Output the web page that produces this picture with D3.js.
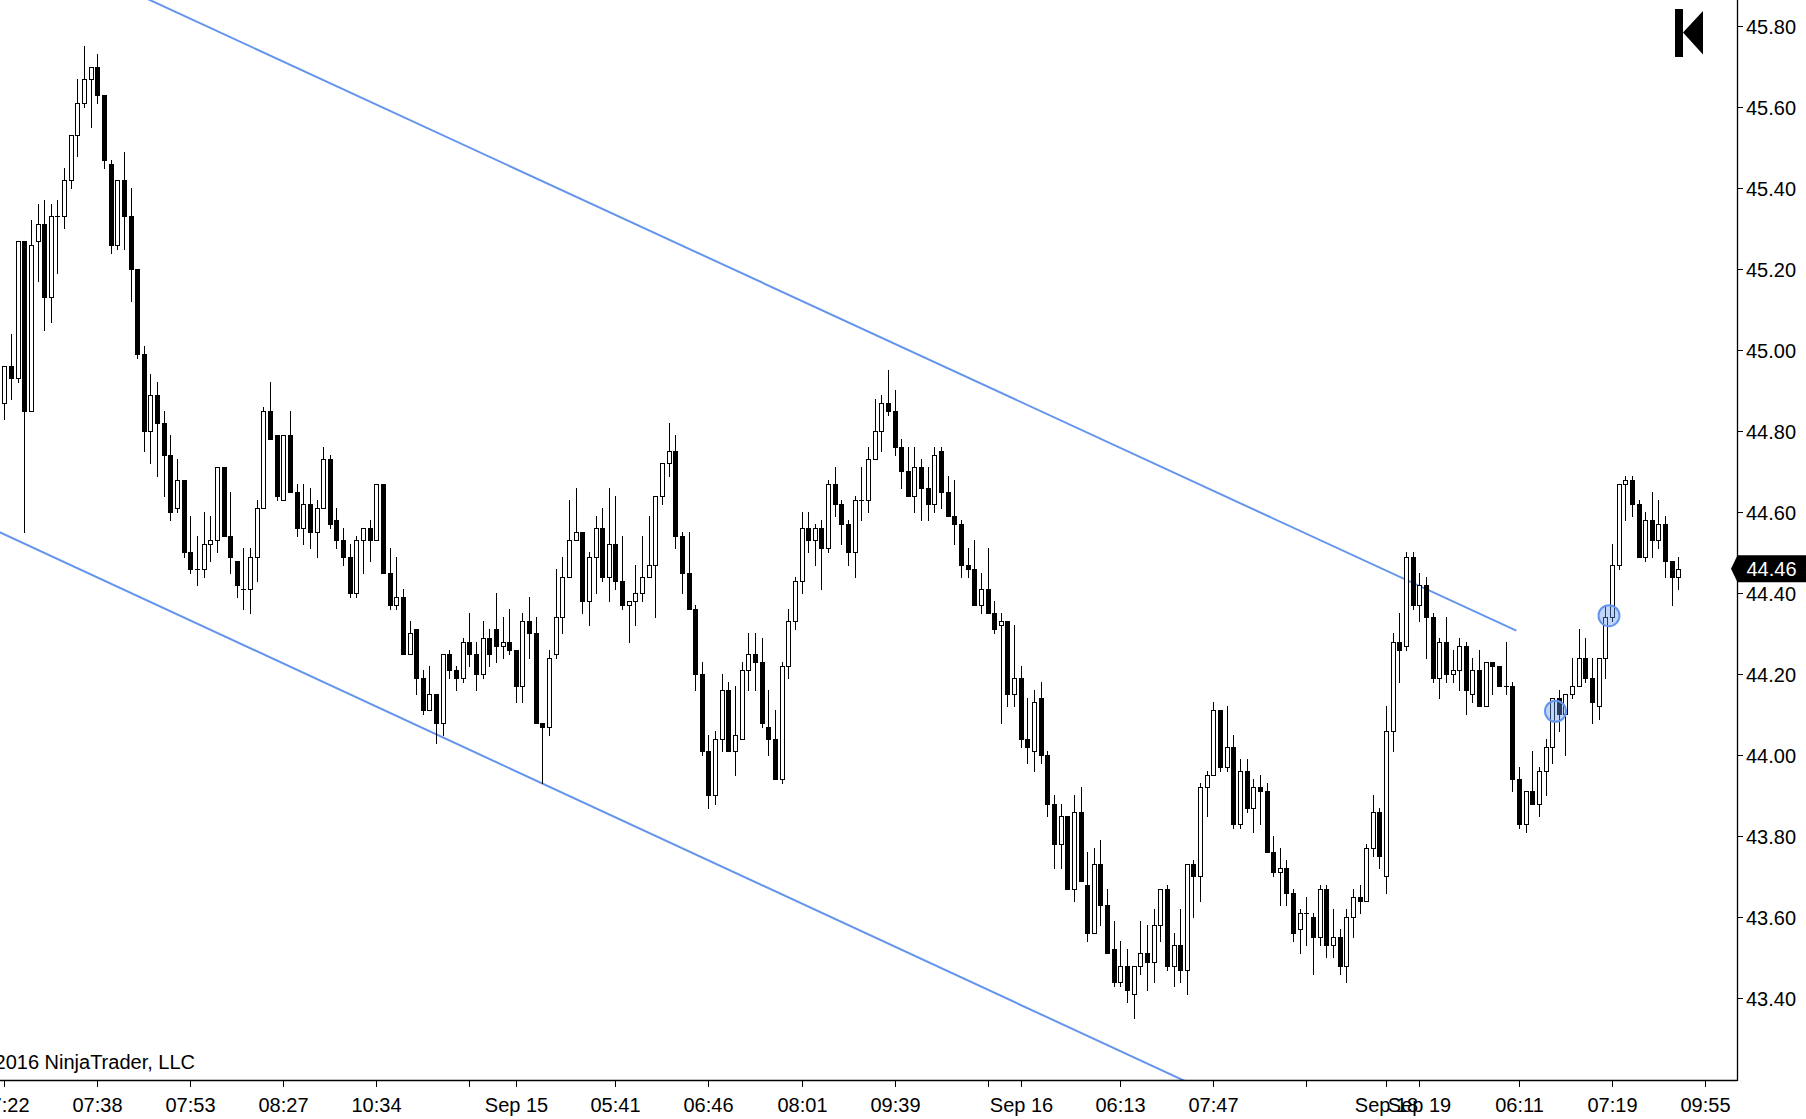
<!DOCTYPE html>
<html>
<head>
<meta charset="utf-8">
<script src="https://cdn.jsdelivr.net/npm/d3@7/dist/d3.min.js"></script>
<style>
  html, body { margin: 0; padding: 0; background: #fff; }
  svg { display: block; font-family: "Liberation Sans", Arial, sans-serif; }
</style>
</head>
<body>
<svg id="chart" width="1806" height="1119"></svg>
<script>
// ---------------- DATA ----------------
const opens = [
44.87,44.96,44.93,45.27,44.85,45.27,45.31,45.13,45.33,45.33,45.42,45.53,45.61,45.67,45.70,45.63,45.46,45.26,45.42,45.33,
45.20,44.99,44.80,44.89,44.82,44.74,44.61,44.68,44.50,44.46,44.46,44.52,44.53,44.71,44.54,44.48,44.41,44.41,44.49,44.61,
44.85,44.79,44.63,44.79,44.65,44.56,44.62,44.55,44.61,44.73,44.58,44.53,44.49,44.40,44.53,44.56,44.53,44.67,44.45,44.37,
44.39,44.25,44.31,44.19,44.11,44.15,44.08,44.25,44.21,44.19,44.28,44.25,44.20,44.29,44.31,44.27,44.28,44.26,44.17,44.33,
44.30,44.08,44.07,44.25,44.34,44.44,44.53,44.55,44.38,44.49,44.56,44.44,44.52,44.43,44.37,44.38,44.40,44.44,44.47,44.64,
44.72,44.75,44.54,44.45,44.36,44.20,44.01,43.90,44.04,44.16,44.01,44.04,44.21,44.25,44.23,44.07,44.04,43.94,44.22,44.33,
44.43,44.56,44.53,44.56,44.51,44.67,44.62,44.57,44.50,44.63,44.63,44.73,44.80,44.87,44.85,44.76,44.70,44.64,44.71,44.66,
44.62,44.75,44.65,44.59,44.57,44.47,44.46,44.37,44.41,44.35,44.32,44.33,44.15,44.19,44.04,44.01,44.14,44.00,43.88,43.78,
43.85,43.67,43.86,43.68,43.56,43.73,43.63,43.52,43.44,43.48,43.41,43.48,43.51,43.49,43.58,43.67,43.48,43.53,43.47,43.73,
43.70,43.92,43.95,44.11,43.97,44.02,43.83,43.96,43.87,43.92,43.91,43.76,43.71,43.72,43.66,43.57,43.61,43.60,43.55,43.67,
43.53,43.55,43.48,43.60,43.65,43.64,43.77,43.86,43.70,44.06,44.28,44.27,44.49,44.37,44.42,44.34,44.19,44.28,44.20,44.21,
44.27,44.15,44.21,44.12,44.23,44.22,44.17,44.17,43.94,43.83,43.91,43.88,43.96,44.02,44.14,44.10,44.15,44.17,44.24,44.19,
44.12,44.24,44.34,44.47,44.67,44.68,44.62,44.49,44.58,44.53,44.57,44.48,44.44
];
const highs = [
44.96,45.04,45.27,45.27,45.32,45.36,45.37,45.36,45.37,45.45,45.53,45.67,45.75,45.70,45.73,45.63,45.47,45.42,45.49,45.40,
45.20,45.01,44.94,44.92,44.85,44.79,44.73,44.68,44.59,44.54,44.60,44.59,44.71,44.71,44.65,44.48,44.51,44.51,44.63,44.86,
44.92,44.79,44.79,44.85,44.67,44.67,44.66,44.63,44.76,44.74,44.61,44.56,44.52,44.54,44.56,44.58,44.67,44.67,44.51,44.49,
44.41,44.33,44.31,44.21,44.22,44.15,44.25,44.26,44.22,44.29,44.35,44.28,44.33,44.31,44.40,44.34,44.36,44.26,44.35,44.39,
44.34,44.08,44.26,44.46,44.49,44.63,44.66,44.55,44.50,44.59,44.61,44.66,44.64,44.54,44.38,44.47,44.54,44.59,44.64,44.72,
44.82,44.79,44.55,44.55,44.37,44.23,44.05,44.06,44.20,44.18,44.17,44.23,44.30,44.30,44.29,44.16,44.11,44.23,44.36,44.44,
44.60,44.60,44.57,44.58,44.68,44.71,44.63,44.58,44.64,44.71,44.76,44.88,44.89,44.95,44.90,44.78,44.76,44.76,44.73,44.71,
44.76,44.76,44.69,44.68,44.58,44.51,44.53,44.45,44.51,44.38,44.35,44.33,44.32,44.22,44.14,44.16,44.18,44.01,43.90,43.88,
43.85,43.90,43.92,43.76,43.77,43.79,43.67,43.59,43.54,43.52,43.48,43.59,43.58,43.62,43.67,43.68,43.56,43.62,43.73,43.74,
43.93,43.96,44.13,44.11,44.12,44.05,43.99,43.99,43.94,43.95,43.93,43.80,43.77,43.74,43.67,43.62,43.65,43.61,43.68,43.68,
43.62,43.57,43.62,43.67,43.68,43.78,43.90,43.87,44.12,44.30,44.35,44.50,44.50,44.45,44.44,44.35,44.29,44.34,44.26,44.29,
44.28,44.24,44.26,44.23,44.23,44.22,44.28,44.18,43.97,43.91,44.01,43.97,44.04,44.14,44.16,44.15,44.24,44.31,44.29,44.24,
44.24,44.37,44.52,44.67,44.69,44.69,44.63,44.60,44.65,44.63,44.59,44.48,44.49
];
const lows = [
44.83,44.88,44.92,44.55,44.85,45.17,45.05,45.07,45.19,45.30,45.40,45.48,45.60,45.55,45.61,45.45,45.24,45.25,45.25,45.12,
44.98,44.75,44.72,44.69,44.64,44.58,44.60,44.49,44.45,44.42,44.44,44.48,44.50,44.54,44.45,44.39,44.36,44.35,44.43,44.61,
44.78,44.63,44.63,44.65,44.54,44.52,44.51,44.49,44.61,44.56,44.51,44.47,44.39,44.39,44.45,44.48,44.53,44.45,44.36,44.36,
44.25,44.25,44.15,44.10,44.11,44.03,44.05,44.19,44.16,44.18,44.22,44.16,44.19,44.22,44.23,44.24,44.25,44.13,44.13,44.24,
44.08,43.93,44.05,44.24,44.30,44.44,44.53,44.35,44.32,44.40,44.43,44.38,44.41,44.36,44.28,44.32,44.38,44.44,44.34,44.62,
44.69,44.51,44.40,44.36,44.16,44.00,43.87,43.88,44.01,44.01,43.95,44.04,44.16,44.16,44.07,44.00,43.94,43.93,44.19,44.31,
44.40,44.50,44.47,44.41,44.50,44.59,44.52,44.47,44.44,44.58,44.60,44.73,44.75,44.84,44.74,44.66,44.64,44.60,44.58,44.58,
44.60,44.61,44.59,44.52,44.44,44.44,44.37,44.35,44.35,44.30,44.08,44.12,44.12,44.02,43.98,43.96,43.98,43.85,43.72,43.72,
43.67,43.64,43.69,43.54,43.56,43.58,43.51,43.43,43.43,43.39,43.35,43.46,43.42,43.44,43.54,43.47,43.43,43.44,43.41,43.60,
43.64,43.85,43.95,43.96,43.96,43.82,43.82,43.86,43.81,43.83,43.76,43.70,43.63,43.63,43.54,43.51,43.53,43.46,43.53,43.50,
43.50,43.46,43.44,43.55,43.61,43.64,43.75,43.72,43.66,44.01,44.18,44.26,44.36,44.33,44.24,44.18,44.14,44.18,44.18,44.16,
44.10,44.13,44.12,44.12,44.15,44.17,44.15,43.91,43.82,43.81,43.88,43.85,43.90,43.98,44.06,44.00,44.14,44.17,44.18,44.08,
44.09,44.19,44.33,44.46,44.58,44.59,44.49,44.48,44.49,44.51,44.44,44.37,44.41
];
const closes = [
44.96,44.93,45.27,44.85,45.26,45.31,45.13,45.33,45.33,45.42,45.53,45.61,45.67,45.70,45.63,45.47,45.26,45.42,45.33,45.20,
44.99,44.80,44.89,44.82,44.74,44.60,44.68,44.50,44.46,44.46,44.52,44.53,44.71,44.54,44.49,44.42,44.41,44.49,44.61,44.85,
44.78,44.64,44.79,44.65,44.56,44.62,44.55,44.61,44.73,44.57,44.53,44.49,44.40,44.53,44.56,44.53,44.67,44.45,44.37,44.39,
44.25,44.30,44.19,44.11,44.15,44.08,44.25,44.21,44.19,44.28,44.25,44.20,44.29,44.25,44.27,44.28,44.26,44.17,44.33,44.30,
44.08,44.07,44.24,44.34,44.44,44.53,44.55,44.38,44.49,44.56,44.44,44.52,44.43,44.37,44.38,44.40,44.44,44.47,44.64,44.72,
44.75,44.54,44.45,44.36,44.20,44.01,43.90,44.04,44.16,44.01,44.05,44.21,44.25,44.23,44.08,44.04,43.94,44.22,44.33,44.43,
44.56,44.53,44.56,44.51,44.67,44.62,44.57,44.50,44.63,44.63,44.73,44.80,44.87,44.85,44.76,44.70,44.64,44.71,44.66,44.62,
44.74,44.65,44.59,44.57,44.47,44.46,44.37,44.41,44.35,44.31,44.33,44.15,44.19,44.04,44.02,44.13,44.00,43.88,43.78,43.85,
43.67,43.86,43.69,43.56,43.73,43.63,43.51,43.44,43.48,43.42,43.48,43.51,43.49,43.58,43.67,43.48,43.53,43.47,43.73,43.70,
43.92,43.95,44.11,43.97,44.02,43.83,43.96,43.87,43.92,43.91,43.76,43.71,43.72,43.66,43.56,43.61,43.61,43.55,43.67,43.53,
43.55,43.48,43.60,43.65,43.64,43.77,43.86,43.75,44.06,44.28,44.26,44.49,44.37,44.42,44.34,44.19,44.28,44.20,44.21,44.27,
44.16,44.21,44.12,44.23,44.22,44.17,44.17,43.94,43.83,43.91,43.88,43.96,44.02,44.14,44.10,44.15,44.17,44.24,44.19,44.13,
44.24,44.34,44.47,44.67,44.68,44.62,44.49,44.58,44.53,44.57,44.48,44.44,44.46
];

// x-axis ticks (bar index) and their labels
const tickBars   = [0, 14, 28, 42, 56, 70, 77, 92, 106, 120, 134, 148, 153, 168, 182, 196, 208, 213, 228, 242, 256];
const tickLabels = ["07:22","07:38","07:53","08:27","10:34","","Sep 15","05:41","06:46","08:01","09:39","","Sep 16","06:13","07:47","","Sep 18","Sep 19","06:11","07:19","09:55"];

// price axis ticks
const priceTicks = [45.80, 45.60, 45.40, 45.20, 45.00, 44.80, 44.60, 44.40, 44.20, 44.00, 43.80, 43.60, 43.40];

// channel lines (bar index, price)
const upperBars = [0, 227.6];
const upperPrices = [46.03, 44.307];
const lowerBars = [-2, 260];
const lowerPrices = [44.56, 42.57];

// markers (bar index, price)
const markerBars = [233.5, 241.55];
const markerPrices = [44.108, 44.344];

// ---------------- LAYOUT ----------------
const W = 1806, H = 1119;
const plotRight = 1737, plotBottom = 1080;
const FONT = 20;

const svg = d3.select("#chart");
svg.append("rect").attr("width", W).attr("height", H).attr("fill", "#fff");

const x = d3.scaleLinear().domain([-0.65, 260.82]).range([0, plotRight]);
const y = d3.scaleLinear().domain([43.1975, 45.8642]).range([plotBottom, 0]);

svg.append("defs").append("clipPath").attr("id", "plotClip")
  .append("rect").attr("x", 0).attr("y", 0).attr("width", plotRight).attr("height", plotBottom);

const plot = svg.append("g").attr("clip-path", "url(#plotClip)");

// channel lines
const lineGen = d3.line().x(d => x(d[0])).y(d => y(d[1]));
[[upperBars, upperPrices], [lowerBars, lowerPrices]].forEach(([bs, ps]) => {
  plot.append("path")
    .attr("d", lineGen(d3.zip(bs, ps)))
    .attr("fill", "none")
    .attr("stroke", "#6495ED")
    .attr("stroke-width", 2);
});

// candles
const candles = d3.range(closes.length).map(i => ({i, o: opens[i], h: highs[i], l: lows[i], c: closes[i]}));
const cg = plot.append("g").attr("shape-rendering", "crispEdges");
candles.forEach(d => {
  const cx = Math.round(x(d.i));
  cg.append("line")
    .attr("x1", cx + 0.5).attr("x2", cx + 0.5)
    .attr("y1", Math.round(y(d.h))).attr("y2", Math.round(y(d.l)) + 1)
    .attr("stroke", "#000").attr("stroke-width", 1);
  const yo = Math.round(y(d.o)), yc = Math.round(y(d.c));
  if (d.c > d.o) {
    cg.append("rect")
      .attr("x", cx - 1.5).attr("y", yc + 0.5)
      .attr("width", 4).attr("height", Math.max(1, yo - yc))
      .attr("fill", "#fff").attr("stroke", "#000").attr("stroke-width", 1);
  } else if (d.c < d.o) {
    cg.append("rect")
      .attr("x", cx - 2).attr("y", yo)
      .attr("width", 5).attr("height", Math.max(1, yc - yo + 1))
      .attr("fill", "#000");
  } else {
    cg.append("line")
      .attr("x1", cx - 2).attr("x2", cx + 3)
      .attr("y1", yo + 0.5).attr("y2", yo + 0.5)
      .attr("stroke", "#000").attr("stroke-width", 1);
  }
});

// markers
d3.zip(markerBars, markerPrices).forEach(([b, p]) => {
  plot.append("circle")
    .attr("cx", x(b)).attr("cy", y(p)).attr("r", 10.5)
    .attr("fill", "rgba(100,149,237,0.4)")
    .attr("stroke", "#6495ED").attr("stroke-width", 2);
});

// ---------------- AXES ----------------
svg.append("line").attr("x1", 0).attr("x2", plotRight).attr("y1", plotBottom + 0.5).attr("y2", plotBottom + 0.5)
  .attr("stroke", "#000").attr("stroke-width", 1.3);
svg.append("line").attr("x1", plotRight + 0.5).attr("x2", plotRight + 0.5).attr("y1", 0).attr("y2", plotBottom + 1)
  .attr("stroke", "#000").attr("stroke-width", 1.3);

// price axis
const yAxis = svg.append("g");
priceTicks.forEach(p => {
  const yy = Math.round(y(p)) + 0.5;
  yAxis.append("line").attr("x1", plotRight).attr("x2", plotRight + 6)
    .attr("y1", yy).attr("y2", yy).attr("stroke", "#000").attr("stroke-width", 1);
  yAxis.append("text").attr("x", plotRight + 9).attr("y", yy + 7.5)
    .attr("font-size", FONT).attr("fill", "#000").text(p.toFixed(2));
});

// time axis
const xAxis = svg.append("g");
tickBars.forEach((b, k) => {
  const xx = Math.round(x(b)) + 0.5;
  xAxis.append("line").attr("x1", xx).attr("x2", xx)
    .attr("y1", plotBottom).attr("y2", plotBottom + 7).attr("stroke", "#000").attr("stroke-width", 1);
  if (tickLabels[k]) {
    xAxis.append("text").attr("x", xx).attr("y", plotBottom + 32)
      .attr("text-anchor", "middle").attr("font-size", FONT).attr("fill", "#000")
      .text(tickLabels[k]);
  }
});

// copyright
svg.append("text").attr("x", 195).attr("y", 1069).attr("text-anchor", "end")
  .attr("font-size", FONT).attr("fill", "#000").text("© 2016 NinjaTrader, LLC");

// current price marker
const lastClose = closes[closes.length - 1];
const yl = y(lastClose);
svg.append("path")
  .attr("d", `M${plotRight - 6},${yl} L${plotRight + 0.5},${yl - 13.5} L${W},${yl - 13.5} L${W},${yl + 13.5} L${plotRight + 0.5},${yl + 13.5} Z`)
  .attr("fill", "#000");
svg.append("text").attr("x", plotRight + 9.5).attr("y", yl + 7.5)
  .attr("font-size", FONT).attr("fill", "#fff").text(lastClose.toFixed(2));

// logo
const logo = svg.append("g").attr("fill", "#000");
logo.append("rect").attr("x", 1675).attr("y", 9).attr("width", 8).attr("height", 48);
logo.append("path").attr("d", "M1683,32.5 L1703,11 L1703,54.5 Z");
</script>
</body>
</html>
